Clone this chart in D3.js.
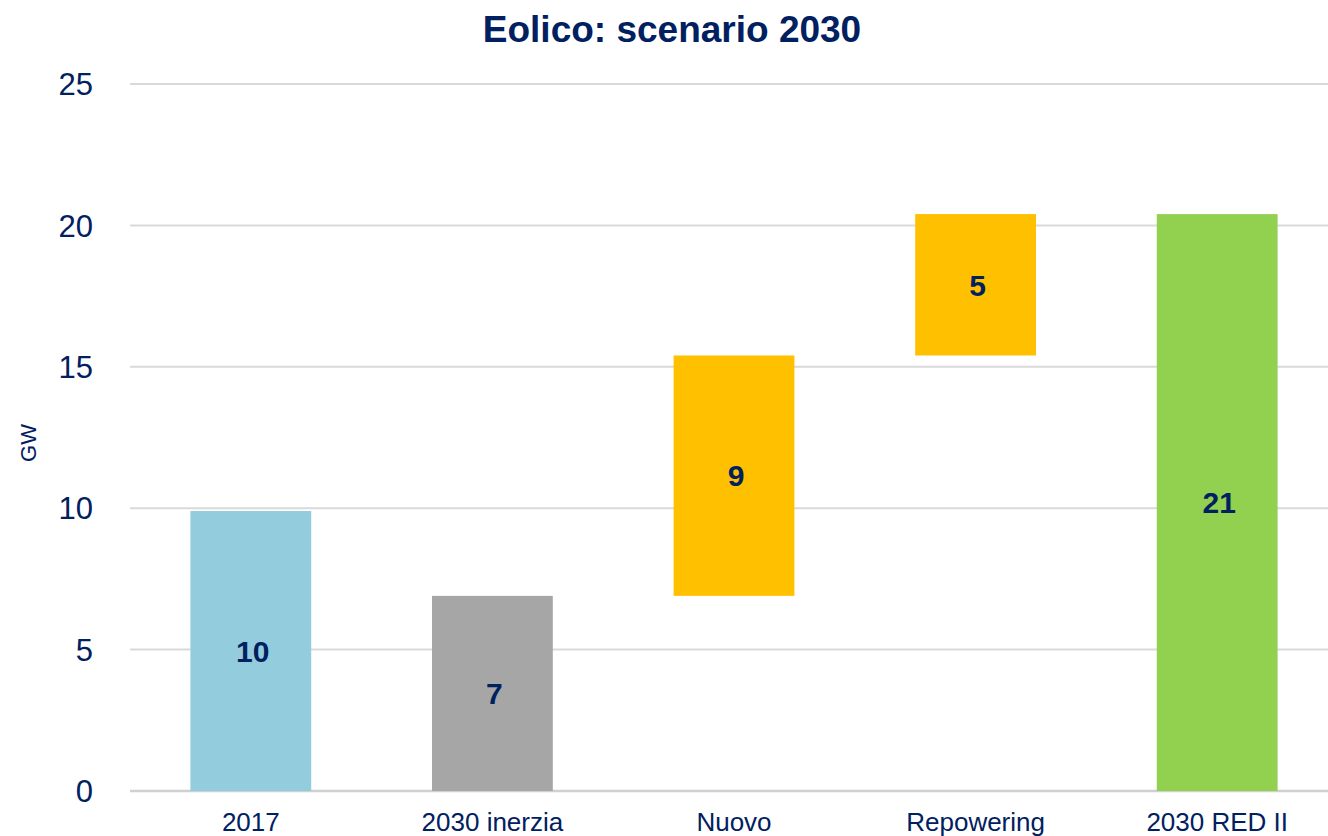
<!DOCTYPE html>
<html>
<head>
<meta charset="utf-8">
<script src="https://cdn.jsdelivr.net/npm/d3@7"></script>
<style>
  body { margin: 0; background: #fff; }
  svg { display: block; font-family: "Liberation Sans", Arial, sans-serif; }
</style>
</head>
<body>
<svg id="chart"></svg>
<script>
'use strict'

const width = 1328,
      height = 836

// data (GW)
const categories = ["2017", "2030 inerzia", "Nuovo", "Repowering", "2030 RED II"]
const bases = [0, 0, 6.9, 15.4, 0]
const values = [9.9, 6.9, 8.5, 5.0, 20.4]
const labels = ["10", "7", "9", "5", "21"]
const colors = ["#93CDDD", "#A6A6A6", "#FFC000", "#FFC000", "#92D050"]
const yTicks = [0, 5, 10, 15, 20, 25]

const navy = "#002060"

const svg = d3.select("#chart")
  .attr("width", width)
  .attr("height", height)

const x = d3.scaleBand()
  .domain(categories)
  .range([130, 1338])
  .paddingInner(0.5)
  .paddingOuter(0.25)

const y = d3.scaleLinear()
  .domain([0, 25])
  .range([791, 84])

// gridlines
svg.append("g")
  .selectAll("line")
  .data(yTicks)
  .join("line")
    .attr("x1", 130)
    .attr("x2", width)
    .attr("y1", d => y(d))
    .attr("y2", d => y(d))
    .attr("stroke", d => d === 0 ? "#D0D0D0" : "#D9D9D9")
    .attr("stroke-width", d => d === 0 ? 2.5 : 2)

// y tick labels
svg.append("g")
  .selectAll("text")
  .data(yTicks)
  .join("text")
    .attr("x", 93)
    .attr("y", d => y(d))
    .attr("dy", "0.36em")
    .attr("text-anchor", "end")
    .attr("fill", navy)
    .style("font-size", "31px")
    .text(d => d)

// bars
const data = categories.map((c, i) => ({ cat: c, base: bases[i], value: values[i], label: labels[i], color: colors[i] }))

svg.append("g")
  .selectAll("rect")
  .data(data)
  .join("rect")
    .attr("x", d => x(d.cat))
    .attr("width", x.bandwidth())
    .attr("y", d => y(d.base + d.value))
    .attr("height", d => y(d.base) - y(d.base + d.value))
    .attr("fill", d => d.color)

// value labels
svg.append("g")
  .selectAll("text")
  .data(data)
  .join("text")
    .attr("x", d => x(d.cat) + x.bandwidth() / 2 + 2)
    .attr("y", d => y(d.base + d.value / 2))
    .attr("dy", "0.36em")
    .attr("text-anchor", "middle")
    .attr("fill", navy)
    .style("font-size", "30px")
    .style("font-weight", "bold")
    .text(d => d.label)

// category labels
svg.append("g")
  .selectAll("text")
  .data(categories)
  .join("text")
    .attr("x", d => x(d) + x.bandwidth() / 2)
    .attr("y", 831)
    .attr("text-anchor", "middle")
    .attr("fill", navy)
    .style("font-size", "26px")
    .text(d => d)

// axis title
svg.append("text")
  .attr("transform", "translate(36,443) rotate(-90)")
  .attr("text-anchor", "middle")
  .attr("fill", navy)
  .style("font-size", "22px")
  .text("GW")

// chart title
svg.append("text")
  .attr("x", 672)
  .attr("y", 42)
  .attr("text-anchor", "middle")
  .attr("fill", navy)
  .style("font-size", "37px")
  .style("font-weight", "bold")
  .text("Eolico: scenario 2030")
</script>
</body>
</html>
